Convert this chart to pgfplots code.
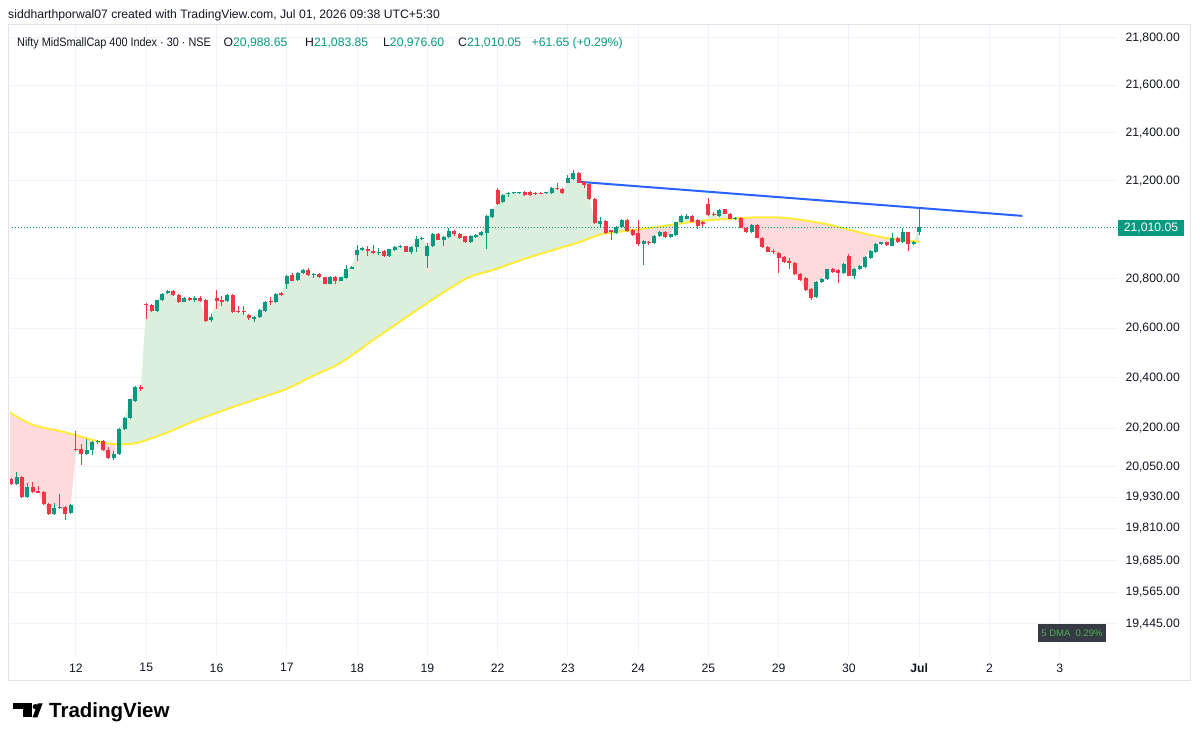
\documentclass[border=0pt]{standalone}
\usepackage{pgfplots}
\pgfplotsset{compat=1.18}
\usepackage{fontspec}
\setmainfont{Liberation Sans}
\definecolor{upc}{HTML}{089981}
\definecolor{dnc}{HTML}{F23645}
\definecolor{maY}{HTML}{FFEB3B}
\definecolor{fillg}{RGB}{220,239,220}
\definecolor{fillr}{RGB}{253,218,220}
\definecolor{gridc}{HTML}{F0F3FA}
\definecolor{framec}{HTML}{E0E3EB}
\definecolor{tvtext}{HTML}{131722}
\definecolor{tvblue}{HTML}{2962FF}
\definecolor{dmabg}{HTML}{363A45}
\definecolor{dmag}{HTML}{4CAF50}
\newcommand\tvf{\fontsize{12.2}{14}\selectfont}
\def\nanstr{nan}
\begin{document}
\begin{tikzpicture}[x=1pt,y=1pt]
\path[use as bounding box, fill=white] (0,0) rectangle (1200,742);
\draw[framec, line width=1pt] (8,61) rectangle (1190,717);
\begin{axis}[
  at={(10pt,87pt)}, anchor=south west,
  scale only axis, width=1107pt, height=630pt,
  xmin=-12.21, xmax=192.6,
  y coord trafo/.code={\edef\tmparg{#1}\ifx\tmparg\nanstr\def\pgfmathresult{nan}\else\begingroup\pgfkeys{/pgf/fpu=true,/pgf/fpu/output format=fixed}\pgfmathparse{1000*ln(#1/20000)}\pgfmathsmuggle\pgfmathresult\endgroup\fi},
  ymin=19327, ymax=21855,
  axis line style={draw=none},
  major tick length=0pt, minor tick num=0,
  xtick={0,13,26,39,52,65,78,91,104,117,130,143,156,169,182},
  xticklabels={12,15,16,17,18,19,22,23,24,25,29,30,\textbf{Jul},2,3},
  ytick={19445,19565,19685,19810,19930,20050,20200,20400,20600,20800,21200,21400,21600,21800},
  yticklabels={{19,445.00},{19,565.00},{19,685.00},{19,810.00},{19,930.00},{20,050.00},{20,200.00},{20,400.00},{20,600.00},{20,800.00},{21,200.00},{21,400.00},{21,600.00},{21,800.00}},
  yticklabel pos=right,
  yticklabel style={anchor=west, xshift=5pt},
  xticklabel style={yshift=-5pt},
  tick label style={font=\tvf, text=tvtext},
  grid=major, major grid style={draw=gridc, line width=1pt},
  unbounded coords=jump,
]
% area between close line and 5 DMA (red below, green above)
\addplot[fill=fillr, draw=none] coordinates {(-12.3,19983)(-12,19983)(-11,20009)(-10,19931)(-9,19971)(-8,19950)(-7,19949)(-6,19904)(-5,19865)(-4,19891)(-3,19894)(-2,19867)(-1,19900)(0,20116)(1,20098)(2,20115)(3,20146)(4,20150)(5,20115)(6,20084)(7,20100)(7.40,20139.8)(4.4,20147)(-1.7,20183)(-8.0,20214)(-12.3,20264)};
\addplot[fill=fillg, draw=none] coordinates {(7.40,20139.8)(8,20199)(9,20240)(10,20315)(11,20365)(12,20356)
(13,20691)(14,20670)(15,20712)(16,20739)(17,20750)(18,20733)(19,20707)(20,20723)(21,20713)(22,20720)(23,20709)(24,20629)(25,20644)
(26,20710)(27,20703)(28,20733)(29,20664)(30,20663)(31,20663)(32,20639)(33,20645)(34,20672)(35,20707)(36,20705)(37,20737)(38,20732)
(39,20812)(40,20792)(41,20824)(42,20836)(43,20815)(44,20818)(45,20805)(46,20779)(47,20808)(48,20792)(49,20805)(50,20841)(51,20848)
(52,20915)(53,20925)(54,20911)(55,20904)(56,20910)(57,20892)(58,20918)(59,20929)(60,20933)(61,20910)(62,20929)(63,20963)(64,20967)
(65,20933)(66,20983)(67,20959)(68,20969)(69,20995)(70,20982)(71,20967)(72,20947)(73,20974)(74,20977)(75,20990)(76,21055)(77,21083)
(78,21106)(79,21144)(80,21151)(81,21153)(82,21154)(83,21142)(84,21142)(85,21146)(86,21147)(87,21153)(88,21172)(89,21166)(90,21149)
(91,21211)(92,21234)(93,21193)(94,21184)(95,21126)(96,21026)(97,21035)(98,20985)(99,20990)(100,21011)(101,21039)(102,20995)
(97.5,20982)(95.7,20970)(92.7,20945)(89.6,20925)(83.5,20884)(77.2,20835)(72.9,20807)(68.7,20754)(63.1,20673)(55.0,20552)(48.9,20460)(43.9,20409)(39.0,20357)(35.3,20329)(29.1,20285)(22.0,20230)(16.8,20183)(11.3,20143)(7.6,20138)};
\addplot[fill=fillr, draw=none] coordinates {(102,20995)(103,20977)(104,20939)(105,20952)(106,20943)(107,20975)(108,20990)(109,20971)(110,20980)(110.81,21020.5)(108.1,21012)};
\addplot[fill=fillg, draw=none] coordinates {(110.81,21020.5)(111,21030)(112,21055)(113,21055)(114,21032)(114.04,21031.4)};
\addplot[fill=fillr, draw=none] coordinates {(114.04,21031.4)(115,21016)(116,21023)(116.4,21037)(114.2,21032)};
\addplot[fill=fillg, draw=none] coordinates {(116.4,21037)(117,21058)(118,21058)(119,21082)(120,21065)(121,21044)(122,21048)(122.07,21045)(119.7,21042)};
\addplot[fill=fillr, draw=none] coordinates {(122.07,21045)(123,21008)(124,20988)(125,21018)(126,20967)(127,20929)(128,20910)(129,20908)
(130,20885)(131,20868)(132,20865)(133,20817)(134,20795)(135,20753)(136,20723)(137,20785)(138,20799)(139,20838)(140,20828)(141,20822)(142,20859)
(143,20812)(144,20840)(145,20850)(146,20889)(147,20913)(148,20941)(149,20948)(150,20937)(151,20967)(152,20950)(152.24,20959.3)
(149.3,20968)(144.5,20991)(139.5,21019)(135.3,21036)(130.8,21048)(126.0,21050)};
\addplot[fill=fillg, draw=none] coordinates {(152.24,20959.3)(153,20988)(153.68,20955.5)(153,20957)};
\addplot[fill=fillr, draw=none] coordinates {(153.68,20955.5)(154,20940)(155,20950)(155.04,20952.3)};
\addplot[fill=fillg, draw=none] coordinates {(155.04,20952.3)(156,21010.05)(156,20950.4)};
% 5 DMA
\addplot[draw=maY, line width=2pt, smooth] coordinates {
(-12.3,20264)(-8.0,20214)(-1.7,20183)(4.4,20147)(7.6,20138)(11.3,20143)(16.8,20183)(22.0,20230)(29.1,20285)(35.3,20329)
(39.0,20357)(43.9,20409)(48.9,20460)(55.0,20552)(63.1,20673)(68.7,20754)(72.9,20807)(77.2,20835)(83.5,20884)(89.6,20925)
(92.7,20945)(95.7,20970)(97.5,20982)(102.0,20995)(108.1,21012)(114.2,21032)(119.7,21042)(126.0,21050)(130.8,21048)(135.3,21036)
(139.5,21019)(144.5,20991)(149.3,20968)(153.0,20957)(156.2,20950)};
% last price dotted line
\addplot[draw=upc, line width=1pt, dash pattern=on 1pt off 2pt] coordinates {(-13,21010.05)(193,21010.05)};
% trend line
\addplot[draw=tvblue, line width=2pt] coordinates {(93.3,21196)(175.1,21056)};
% up candles: wicks (low,high)
\addplot[draw=upc, line width=1pt] coordinates {
(-11,19979)(-11,20027)(-11,nan)(-9,19929)(-9,19988)(-9,nan)(-4,19861)(-4,19910)(-4,nan)(-3,19884)(-3,19942)(-3,nan)(-1,19866)(-1,19905)(-1,nan)
(2,20094)(2,20158)(2,nan)(3,20095)(3,20150)(3,nan)(4,20138)(4,20156)(4,nan)(7,20075)(7,20110)(7,nan)(8,20096)(8,20203)(8,nan)
(9,20192)(9,20244)(9,nan)(10,20236)(10,20318)(10,nan)(11,20306)(11,20368)(11,nan)(15,20666)(15,20715)(15,nan)(16,20708)(16,20742)(16,nan)
(17,20736)(17,20754)(17,nan)(20,20703)(20,20726)(20,nan)(22,20705)(22,20730)(22,nan)(25,20626)(25,20657)(25,nan)(28,20706)(28,20736)(28,nan)
(33,20625)(33,20649)(33,nan)(34,20641)(34,20675)(34,nan)(35,20666)(35,20710)(35,nan)(37,20701)(37,20740)(37,nan)(39,20759)(39,20815)(39,nan)
(41,20791)(41,20827)(41,nan)(42,20820)(42,20839)(42,nan)(44,20803)(44,20821)(44,nan)(47,20776)(47,20811)(47,nan)(49,20788)(49,20808)(49,nan)
(50,20799)(50,20857)(50,nan)(51,20837)(51,20851)(51,nan)(52,20873)(52,20936)(52,nan)(53,20911)(53,20928)(53,nan)(56,20895)(56,20925)(56,nan)
(58,20888)(58,20921)(58,nan)(59,20911)(59,20932)(59,nan)(60,20925)(60,20937)(60,nan)(62,20900)(62,20933)(62,nan)(63,20910)(63,20975)(63,nan)
(64,20959)(64,20970)(64,nan)(65,20845)(65,20945)(65,nan)(66,20927)(66,20986)(66,nan)(68,20935)(68,20973)(68,nan)(69,20964)(69,21005)(69,nan)
(73,20944)(73,20977)(73,nan)(74,20964)(74,20980)(74,nan)(75,20973)(75,20995)(75,nan)(76,20918)(76,21058)(76,nan)(77,21046)(77,21086)(77,nan)
(79,21108)(79,21147)(79,nan)(80,21135)(80,21155)(80,nan)(81,21146)(81,21155)(81,nan)(82,21146)(82,21156)(82,nan)(87,21146)(87,21156)(87,nan)
(88,21146)(88,21175)(88,nan)(91,21190)(91,21225)(91,nan)(92,21204)(92,21244)(92,nan)(97,21006)(97,21051)(97,nan)(100,20980)(100,21014)(100,nan)
(101,21006)(101,21042)(101,nan)(105,20855)(105,20956)(105,nan)(107,20941)(107,20978)(107,nan)(108,20971)(108,20993)(108,nan)(110,20967)(110,20983)(110,nan)
(111,20972)(111,21033)(111,nan)(112,21028)(112,21058)(112,nan)(113,21041)(113,21062)(113,nan)(119,21051)(119,21085)(119,nan)(122,21040)(122,21052)(122,nan)
(125,20984)(125,21021)(125,nan)(137,20721)(137,20788)(137,nan)(138,20781)(138,20802)(138,nan)(139,20795)(139,20841)(139,nan)(142,20820)(142,20862)(142,nan)
(144,20799)(144,20843)(144,nan)(145,20836)(145,20853)(145,nan)(146,20843)(146,20892)(146,nan)(147,20881)(147,20916)(147,nan)(148,20906)(148,20944)(148,nan)
(149,20936)(149,20951)(149,nan)(151,20931)(151,20985)(151,nan)(153,20946)(153,21005)(153,nan)(155,20936)(155,20953)(155,nan)(156,20976.6)(156,21083.85)};
% up candles: bodies (open,close)
\addplot[draw=upc, line width=4pt] coordinates {
(-11,19983)(-11,20009)(-11,nan)(-9,19932)(-9,19971)(-9,nan)(-4,19865)(-4,19891)(-4,nan)(-3,19889)(-3,19894)(-3,nan)(-1,19870)(-1,19900)(-1,nan)
(2,20098)(2,20115)(2,nan)(3,20115)(3,20146)(3,nan)(4,20145)(4,20150)(4,nan)(7,20082)(7,20100)(7,nan)(8,20100)(8,20199)(8,nan)
(9,20196)(9,20240)(9,nan)(10,20240)(10,20315)(10,nan)(11,20310)(11,20365)(11,nan)(15,20670)(15,20712)(15,nan)(16,20712)(16,20739)(16,nan)
(17,20740)(17,20750)(17,nan)(20,20707)(20,20723)(20,nan)(22,20713)(22,20720)(22,nan)(25,20632)(25,20644)(25,nan)(28,20710)(28,20733)(28,nan)
(33,20636)(33,20645)(33,nan)(34,20645)(34,20672)(34,nan)(35,20670)(35,20707)(35,nan)(37,20705)(37,20737)(37,nan)(39,20780)(39,20812)(39,nan)
(41,20795)(41,20824)(41,nan)(42,20824)(42,20836)(42,nan)(44,20813)(44,20818)(44,nan)(47,20780)(47,20808)(47,nan)(49,20792)(49,20805)(49,nan)
(50,20803)(50,20841)(50,nan)(51,20841)(51,20848)(51,nan)(52,20895)(52,20915)(52,nan)(53,20915)(53,20925)(53,nan)(56,20904)(56,20910)(56,nan)
(58,20892)(58,20918)(58,nan)(59,20915)(59,20929)(59,nan)(60,20929)(60,20933)(60,nan)(62,20908)(62,20929)(62,nan)(63,20929)(63,20963)(63,nan)
(64,20963)(64,20967)(64,nan)(65,20892)(65,20933)(65,nan)(66,20931)(66,20983)(66,nan)(68,20959)(68,20969)(68,nan)(69,20968)(69,20995)(69,nan)
(73,20948)(73,20974)(73,nan)(74,20968)(74,20977)(74,nan)(75,20977)(75,20990)(75,nan)(76,20985)(76,21055)(76,nan)(77,21050)(77,21083)(77,nan)
(79,21112)(79,21144)(79,nan)(80,21147)(80,21151)(80,nan)(81,21150)(81,21153)(81,nan)(82,21150)(82,21154)(82,nan)(87,21149)(87,21153)(87,nan)
(88,21149)(88,21172)(88,nan)(91,21193)(91,21211)(91,nan)(92,21208)(92,21234)(92,nan)(97,21022)(97,21035)(97,nan)(100,20984)(100,21011)(100,nan)
(101,21010)(101,21039)(101,nan)(105,20939)(105,20952)(105,nan)(107,20945)(107,20975)(107,nan)(108,20975)(108,20990)(108,nan)(110,20971)(110,20980)(110,nan)
(111,20976)(111,21030)(111,nan)(112,21032)(112,21055)(112,nan)(113,21045)(113,21055)(113,nan)(119,21055)(119,21082)(119,nan)(122,21045)(122,21048)(122,nan)
(125,20988)(125,21018)(125,nan)(137,20725)(137,20785)(137,nan)(138,20785)(138,20799)(138,nan)(139,20799)(139,20838)(139,nan)(142,20824)(142,20859)(142,nan)
(144,20812)(144,20840)(144,nan)(145,20840)(145,20850)(145,nan)(146,20847)(146,20889)(146,nan)(147,20885)(147,20913)(147,nan)(148,20910)(148,20941)(148,nan)
(149,20940)(149,20948)(149,nan)(151,20935)(151,20967)(151,nan)(153,20950)(153,20988)(153,nan)(155,20940)(155,20950)(155,nan)(156,20988.65)(156,21010.05)};
% down candles: wicks (low,high)
\addplot[draw=dnc, line width=1pt] coordinates {
(-12,19979)(-12,20006)(-12,nan)(-10,19928)(-10,20013)(-10,nan)(-8,19947)(-8,19990)(-8,nan)(-7,19946)(-7,19975)(-7,nan)(-6,19900)(-6,19956)(-6,nan)
(-5,19860)(-5,19908)(-5,nan)(-2,19842)(-2,19898)(-2,nan)(0,20110)(0,20188)(0,nan)(1,20057)(1,20138)(1,nan)(5,20112)(5,20156)(5,nan)
(6,20080)(6,20125)(6,nan)(12,20350)(12,20372)(12,nan)(13,20635)(13,20700)(13,nan)(14,20666)(14,20697)(14,nan)(18,20730)(18,20754)(18,nan)
(19,20702)(19,20736)(19,nan)(21,20708)(21,20724)(21,nan)(23,20705)(23,20730)(23,nan)(24,20625)(24,20716)(24,nan)(26,20677)(26,20753)(26,nan)
(27,20690)(27,20730)(27,nan)(29,20660)(29,20736)(29,nan)(30,20659)(30,20687)(30,nan)(31,20651)(31,20687)(31,nan)(32,20633)(32,20655)(32,nan)
(36,20695)(36,20725)(36,nan)(38,20728)(38,20745)(38,nan)(40,20789)(40,20824)(40,nan)(43,20812)(43,20845)(43,nan)(45,20802)(45,20823)(45,nan)
(46,20776)(46,20808)(46,nan)(48,20776)(48,20811)(48,nan)(54,20893)(54,20932)(54,nan)(55,20900)(55,20937)(55,nan)(57,20889)(57,20916)(57,nan)
(61,20907)(61,20934)(61,nan)(67,20956)(67,20986)(67,nan)(70,20975)(70,20998)(70,nan)(71,20963)(71,20986)(71,nan)(72,20943)(72,20975)(72,nan)
(78,21102)(78,21170)(78,nan)(83,21139)(83,21157)(83,nan)(84,21139)(84,21157)(84,nan)(85,21143)(85,21155)(85,nan)(86,21145)(86,21154)(86,nan)
(89,21163)(89,21190)(89,nan)(90,21146)(90,21170)(90,nan)(93,21190)(93,21237)(93,nan)(94,21172)(94,21200)(94,nan)(95,21122)(95,21191)(95,nan)
(96,21022)(96,21129)(96,nan)(98,20981)(98,21038)(98,nan)(99,20956)(99,21000)(99,nan)(102,20991)(102,21042)(102,nan)(103,20973)(103,21002)(103,nan)
(104,20935)(104,21040)(104,nan)(106,20938)(106,20952)(106,nan)(109,20967)(109,20993)(109,nan)(114,21029)(114,21058)(114,nan)(115,21003)(115,21043)(115,nan)
(116,21010)(116,21034)(116,nan)(117,21055)(117,21130)(117,nan)(118,21054)(118,21072)(118,nan)(120,21062)(120,21086)(120,nan)(121,21041)(121,21068)(121,nan)
(123,21005)(123,21050)(123,nan)(124,20985)(124,21011)(124,nan)(126,20964)(126,21021)(126,nan)(127,20926)(127,20970)(127,nan)(128,20907)(128,20932)(128,nan)
(129,20900)(129,20918)(129,nan)(130,20822)(130,20909)(130,nan)(131,20865)(131,20890)(131,nan)(132,20840)(132,20885)(132,nan)(133,20814)(133,20868)(133,nan)
(134,20792)(134,20823)(134,nan)(135,20750)(135,20806)(135,nan)(136,20715)(136,20760)(136,nan)(140,20822)(140,20845)(140,nan)(141,20783)(141,20838)(141,nan)
(143,20809)(143,20900)(143,nan)(150,20933)(150,20951)(150,nan)(152,20946)(152,20970)(152,nan)(154,20912)(154,20991)};
% down candles: bodies (open,close)
\addplot[draw=dnc, line width=4pt] coordinates {
(-12,20001)(-12,19983)(-12,nan)(-10,20009)(-10,19931)(-10,nan)(-8,19971)(-8,19950)(-8,nan)(-7,19955)(-7,19949)(-7,nan)(-6,19952)(-6,19904)(-6,nan)
(-5,19904)(-5,19865)(-5,nan)(-2,19894)(-2,19867)(-2,nan)(0,20120)(0,20116)(0,nan)(1,20118)(1,20098)(1,nan)(5,20152)(5,20115)(5,nan)
(6,20115)(6,20084)(6,nan)(12,20366)(12,20356)(12,nan)(13,20697)(13,20691)(13,nan)(14,20693)(14,20670)(14,nan)(18,20750)(18,20733)(18,nan)
(19,20733)(19,20707)(19,nan)(21,20720)(21,20713)(21,nan)(23,20723)(23,20709)(23,nan)(24,20713)(24,20629)(24,nan)(26,20719)(26,20710)(26,nan)
(27,20713)(27,20703)(27,nan)(29,20733)(29,20664)(29,nan)(30,20669)(30,20663)(30,nan)(31,20667)(31,20663)(31,nan)(32,20652)(32,20639)(32,nan)
(36,20709)(36,20705)(36,nan)(38,20740)(38,20732)(38,nan)(40,20816)(40,20792)(40,nan)(43,20836)(43,20815)(43,nan)(45,20820)(45,20805)(45,nan)
(46,20805)(46,20779)(46,nan)(48,20808)(48,20792)(48,nan)(54,20922)(54,20911)(54,nan)(55,20913)(55,20904)(55,nan)(57,20913)(57,20892)(57,nan)
(61,20931)(61,20910)(61,nan)(67,20983)(67,20959)(67,nan)(70,20995)(70,20982)(70,nan)(71,20983)(71,20967)(71,nan)(72,20972)(72,20947)(72,nan)
(78,21161)(78,21106)(78,nan)(83,21154)(83,21142)(83,nan)(84,21154)(84,21142)(84,nan)(85,21152)(85,21146)(85,nan)(86,21151)(86,21147)(86,nan)
(89,21172)(89,21166)(89,nan)(90,21167)(90,21149)(90,nan)(93,21234)(93,21193)(93,nan)(94,21197)(94,21184)(94,nan)(95,21188)(95,21126)(95,nan)
(96,21126)(96,21026)(96,nan)(98,21035)(98,20985)(98,nan)(99,20996)(99,20990)(99,nan)(102,21039)(102,20995)(102,nan)(103,20999)(103,20977)(103,nan)
(104,20985)(104,20939)(104,nan)(106,20948)(106,20943)(106,nan)(109,20990)(109,20971)(109,nan)(114,21055)(114,21032)(114,nan)(115,21040)(115,21016)(115,nan)
(116,21030)(116,21023)(116,nan)(117,21107)(117,21058)(117,nan)(118,21065)(118,21058)(118,nan)(120,21083)(120,21065)(120,nan)(121,21065)(121,21044)(121,nan)
(123,21047)(123,21008)(123,nan)(124,21008)(124,20988)(124,nan)(126,21018)(126,20967)(126,nan)(127,20967)(127,20929)(127,nan)(128,20929)(128,20910)(128,nan)
(129,20913)(129,20908)(129,nan)(130,20906)(130,20885)(130,nan)(131,20887)(131,20868)(131,nan)(132,20870)(132,20865)(132,nan)(133,20865)(133,20817)(133,nan)
(134,20820)(134,20795)(134,nan)(135,20803)(135,20753)(135,nan)(136,20757)(136,20723)(136,nan)(140,20838)(140,20828)(140,nan)(141,20834)(141,20822)(141,nan)
(143,20892)(143,20812)(143,nan)(150,20948)(150,20937)(150,nan)(152,20967)(152,20950)(152,nan)(154,20988)(154,20940)};
\end{axis}
% price label and indicator label
\node[fill=upc, text=white, font=\tvf, minimum width=66pt, minimum height=16.5pt, inner sep=0pt] at (1151,514) {21,010.05};
\node[fill=dmabg, text=dmag, font=\fontsize{9.5}{11}\selectfont, minimum width=68pt, minimum height=18pt, inner sep=0pt] at (1072,109) {5 DMA\ \ 0.29\%};
% header
\node[anchor=west, inner sep=0pt, text=tvtext, font=\tvf] at (8,727) {siddharthporwal07 created with TradingView.com, Jul 01, 2026 09:38 UTC+5:30};
\node[anchor=west, inner sep=0pt, text=tvtext, font=\tvf, xscale=0.89] at (17,699) {Nifty MidSmallCap 400 Index · 30 · NSE};
\node[anchor=west, inner sep=0pt, text=tvtext, font=\tvf] at (223.5,699) {O\textcolor{upc}{20,988.65}};
\node[anchor=west, inner sep=0pt, text=tvtext, font=\tvf] at (305,699) {H\textcolor{upc}{21,083.85}};
\node[anchor=west, inner sep=0pt, text=tvtext, font=\tvf] at (383,699) {L\textcolor{upc}{20,976.60}};
\node[anchor=west, inner sep=0pt, text=tvtext, font=\tvf] at (458,699) {C\textcolor{upc}{21,010.05}};
\node[anchor=west, inner sep=0pt, text=upc, font=\tvf] at (531.5,699) {+61.65 (+0.29\%)};
% logo
\fill[black] (12.7,33) rectangle (31.7,38.7);
\fill[black] (22.7,24.7) rectangle (31.7,38.7);
\fill[black] (35.4,35.3) circle (2.7);
\fill[black] (32.5,24.7) -- (37.3,24.7) -- (42.7,38.7) -- (37.9,38.7) -- cycle;
\node[anchor=base west, inner sep=0pt, font=\fontsize{20.5}{24}\selectfont\bfseries, text=black] at (49,24.7) {TradingView};
\end{tikzpicture}
\end{document}
